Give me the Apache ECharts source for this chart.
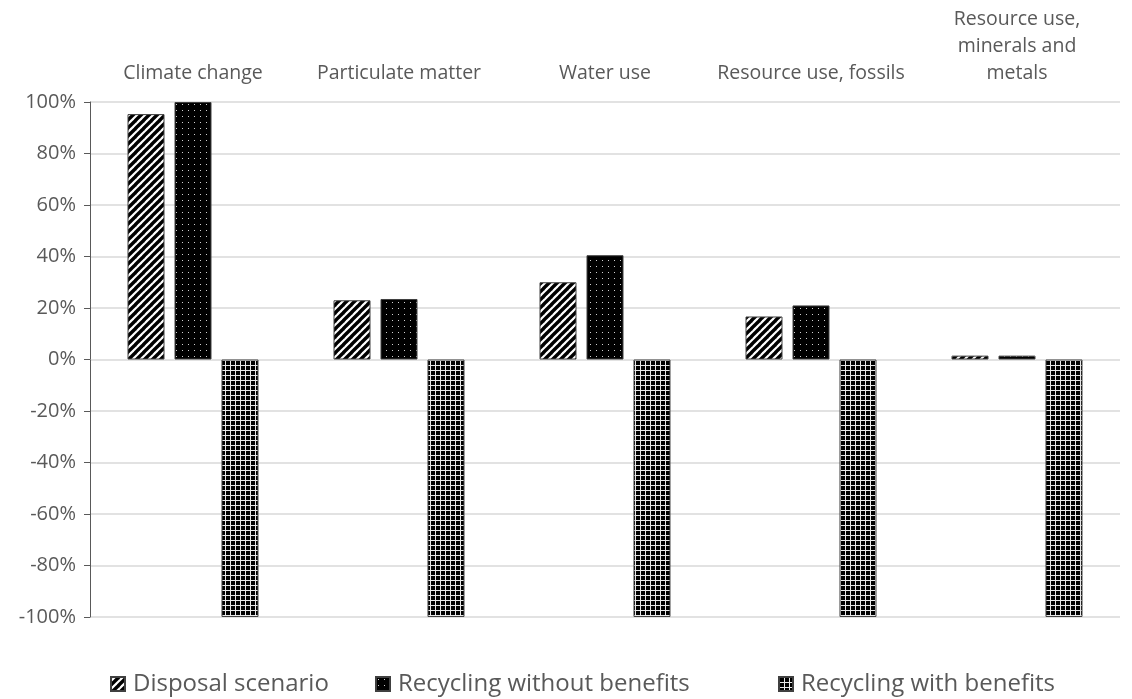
<!DOCTYPE html>
<html>
<head>
<meta charset="utf-8">
<script src="https://cdn.jsdelivr.net/npm/echarts@6/dist/echarts.min.js"></script>
<style>
html,body{margin:0;padding:0;background:#fff;}
#main{width:1132px;height:699px;}
</style>
</head>
<body>
<div id="main"></div>
<script>
var categories = ['Climate change', 'Particulate matter', 'Water use', 'Resource use, fossils', 'Resource use,\nminerals and\nmetals'];
var seriesNames = ['Disposal scenario', 'Recycling without benefits', 'Recycling with benefits'];
var disposal = [95.3, 23, 30, 16.7, 1.5];
var recyclingWithout = [100, 23.5, 40.5, 21, 1.5];
var recyclingWith = [-100, -100, -100, -100, -100];
var yTicks = [-100, -80, -60, -40, -20, 0, 20, 40, 60, 80, 100];

function makeStripes() {
  var c = document.createElement('canvas');
  c.width = 8; c.height = 8;
  var g = c.getContext('2d');
  g.fillStyle = '#fff'; g.fillRect(0, 0, 8, 8);
  g.strokeStyle = '#000'; g.lineWidth = 3.4;
  for (var k = -1; k <= 1; k++) {
    g.beginPath();
    g.moveTo(k * 8 - 1, 9);
    g.lineTo(k * 8 + 9, -1);
    g.stroke();
  }
  return c;
}
function makeDots() {
  var c = document.createElement('canvas');
  c.width = 6; c.height = 6;
  var g = c.getContext('2d');
  g.fillStyle = '#000'; g.fillRect(0, 0, 6, 6);
  g.fillStyle = '#d0d0d0'; g.fillRect(2, 2, 1, 1);
  return c;
}
function makeGrid() {
  var c = document.createElement('canvas');
  c.width = 5; c.height = 5;
  var g = c.getContext('2d');
  g.fillStyle = '#000'; g.fillRect(0, 0, 5, 5);
  g.fillStyle = '#e8e8e8';
  g.fillRect(0, 0, 5, 1);
  g.fillRect(0, 0, 1, 5);
  return c;
}

var font = '"Open Sans", "Noto Sans", sans-serif';
var txt = '#595959';

var chart = echarts.init(document.getElementById('main'), null, {renderer: 'canvas'});
function barSeries(name, data, pattern) {
  return {
    name: name,
    type: 'bar',
    data: data,
    barWidth: 37,
    barGap: '27%',
    itemStyle: {
      color: {image: pattern, repeat: 'repeat'},
      borderColor: '#404040',
      borderWidth: 1
    }
  };
}
function legendAt(name, left) {
  return {
    bottom: -2,
    left: left,
    itemWidth: 14,
    itemHeight: 14,
    icon: 'rect',
    selectedMode: false,
    textStyle: {fontFamily: font, fontSize: 24, color: txt, padding: [0, 0, 0, 3]},
    data: [name]
  };
}
chart.setOption({
  animation: false,
  backgroundColor: '#fff',
  grid: {left: 90, right: 12, top: 102, bottom: 82, containLabel: false},
  legend: [
    legendAt(seriesNames[0], 105),
    legendAt(seriesNames[1], 370),
    legendAt(seriesNames[2], 773)
  ],
  xAxis: {
    type: 'category',
    position: 'top',
    data: categories,
    axisLine: {show: false},
    axisTick: {show: false},
    axisLabel: {
      interval: 0,
      margin: 15,
      fontFamily: font,
      fontSize: 19.5,
      color: txt,
      lineHeight: 27
    }
  },
  yAxis: {
    type: 'value',
    min: -100,
    max: 100,
    interval: 20,
    axisLine: {show: true, lineStyle: {color: '#595959', width: 1}},
    axisTick: {show: true, inside: false, length: 6, lineStyle: {color: '#595959'}},
    axisLabel: {
      formatter: function (v) { return v + '%'; },
      fontFamily: font,
      fontSize: 20,
      color: txt,
      margin: 14
    },
    splitLine: {show: true, lineStyle: {color: '#d9d9d9', width: 1.5}}
  },
  series: [
    barSeries(seriesNames[0], disposal, makeStripes()),
    barSeries(seriesNames[1], recyclingWithout, makeDots()),
    barSeries(seriesNames[2], recyclingWith, makeGrid())
  ]
});
</script>
</body>
</html>
